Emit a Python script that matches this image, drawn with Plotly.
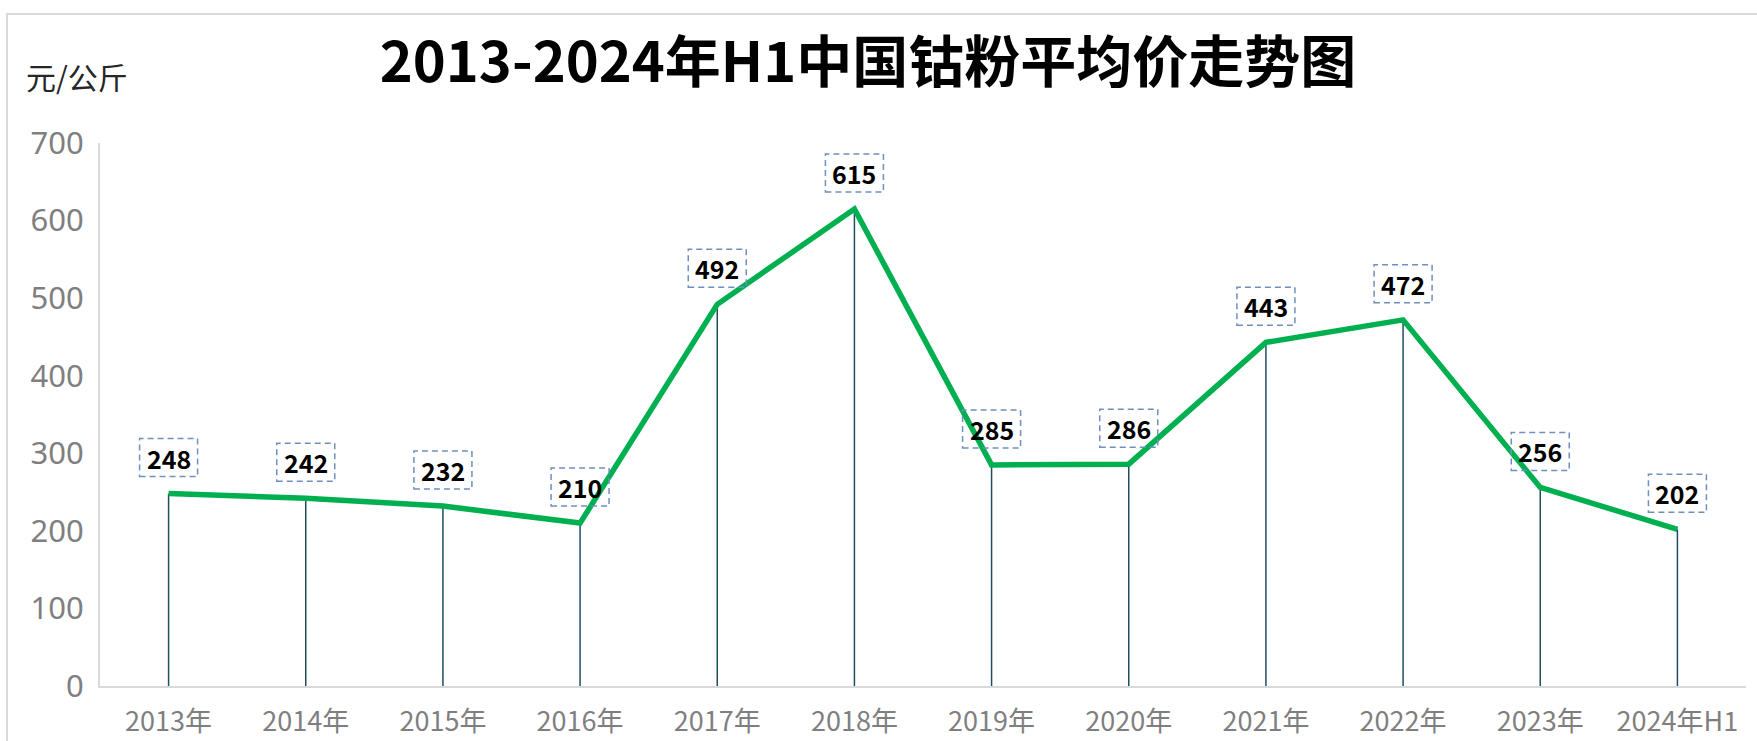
import plotly.graph_objects as go

categories = ["2013年", "2014年", "2015年", "2016年", "2017年", "2018年",
              "2019年", "2020年", "2021年", "2022年", "2023年", "2024年H1"]
prices = [248, 242, 232, 210, 492, 615, 285, 286, 443, 472, 256, 202]
y_ticks = [0, 100, 200, 300, 400, 500, 600, 700]

title_text = "2013-2024年H1中国钴粉平均价走势图"
unit_text = "元/公斤"

W, H = 1757, 741
ML, MR, MT, MB = 100, 11, 143, 55
FONT = "Noto Sans CJK SC"

fig = go.Figure()

# drop lines from each point to the axis
fig.add_trace(go.Scatter(
    x=categories, y=prices, mode="markers",
    marker=dict(size=1, color="rgba(0,0,0,0)"),
    error_y=dict(type="data", symmetric=False, array=[0] * len(prices),
                 arrayminus=prices, color="#1f4e5f", thickness=1.5, width=0),
    hoverinfo="skip", showlegend=False,
))

# main line
fig.add_trace(go.Scatter(
    x=categories, y=prices, mode="lines",
    line=dict(color="#00b050", width=5.5),
    showlegend=False,
))

# data labels with dashed boxes
for c, v in zip(categories, prices):
    fig.add_annotation(x=c, y=v, xref="x", yref="y", text=f"<b>{v}</b>",
                       showarrow=False, yshift=36,
                       font=dict(family=FONT, size=25, color="#000000"))
    fig.add_shape(type="rect", xref="x", yref="y",
                  xsizemode="pixel", ysizemode="pixel",
                  xanchor=c, yanchor=v, x0=-29, x1=29, y0=17, y1=55,
                  line=dict(color="#6f8fbf", width=1.5, dash="6px,4px"),
                  fillcolor="rgba(0,0,0,0)", layer="above")

# outer frame (top and left edges visible)
pw = W - ML - MR
ph = H - MT - MB
fig.add_shape(type="rect", xref="paper", yref="paper",
              x0=(7 - ML) / pw, x1=(W + 20 - ML) / pw,
              y0=-(MB + 20) / ph, y1=(H - MB - 14) / ph,
              line=dict(color="#d9d9d9", width=2), fillcolor="rgba(0,0,0,0)",
              layer="below")

fig.add_annotation(text=unit_text, xref="paper", yref="paper",
                   x=(24 - ML) / pw, y=(H - MB - 76) / ph,
                   xanchor="left", yanchor="middle", showarrow=False,
                   font=dict(family=FONT, size=30, color="#262626"))

fig.update_layout(
    width=W, height=H,
    margin=dict(l=ML, r=MR, t=MT, b=MB, autoexpand=False),
    paper_bgcolor="white", plot_bgcolor="white",
    title=dict(text=f"<b>{title_text}</b>", x=868 / W, xref="container",
               xanchor="center", y=1 - 62 / H, yref="container", yanchor="middle",
               font=dict(family=FONT, size=56, color="#000000")),
    xaxis=dict(type="category", range=[-0.5, len(categories) - 0.5],
               showgrid=False, showline=True, linecolor="#d9d9d9", linewidth=2,
               ticks="", ticklabelstandoff=11, automargin=False,
               tickfont=dict(family=FONT, size=27, color="#7f7f7f"),
               zeroline=False),
    yaxis=dict(range=[0, 700], tickvals=y_ticks, showgrid=False,
               showline=True, linecolor="#d9d9d9", linewidth=2,
               ticks="", ticklabelstandoff=8, zeroline=False, automargin=False,
               tickfont=dict(family="Noto Sans", size=31, color="#7f7f7f")),
)

fig.write_html("out.html",
               config={"displayModeBar": False},
               post_script="document.body.style.margin='0';"
                           "document.body.style.overflow='hidden';")
